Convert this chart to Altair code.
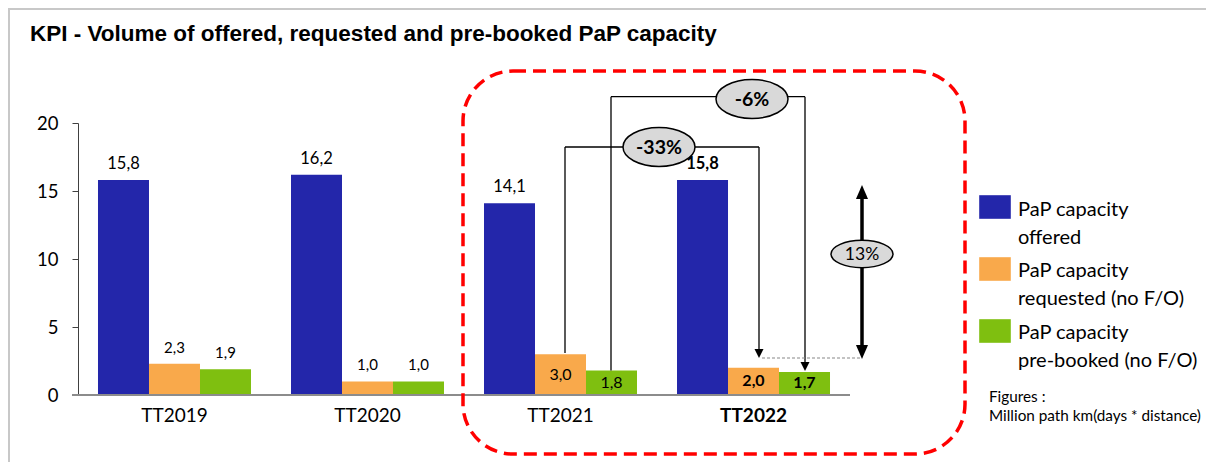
import altair as alt
import pandas as pd

# ---------------- data ----------------
title_text = "KPI - Volume of offered, requested and pre-booked PaP capacity"
groups = ["TT2019", "TT2020", "TT2021", "TT2022"]
series = ["PaP capacity offered", "PaP capacity requested (no F/O)", "PaP capacity pre-booked (no F/O)"]
legend_lines = ["PaP capacity\noffered", "PaP capacity\nrequested (no F/O)", "PaP capacity\npre-booked (no F/O)"]
offered = [15.8, 16.2, 14.1, 15.8]
requested = [2.3, 1.0, 3.0, 2.0]
prebooked = [1.9, 1.0, 1.8, 1.7]
colors = ["#2326AA", "#F9A94B", "#7FBF10"]
y_ticks = [0, 5, 10, 15, 20]
change_labels = ["-33%", "-6%", "13%"]
note_text = "Figures :\nMillion path km(days * distance)"

rows = []
for i, g in enumerate(groups):
    for s, vals in zip(series, [offered, requested, prebooked]):
        v = vals[i]
        rows.append({"group": g, "series": s, "value": v,
                     "label": f"{v:.1f}".replace(".", ",")})
df = pd.DataFrame(rows)
legend_df = pd.DataFrame({"series": series, "text": legend_lines})

# ---------------- geometry helpers ----------------
W, H = 772, 272
OX, OY = 78, 123          # absolute page position of plot origin


def px(a):
    return a - OX


def py(b):
    return b - OY


FONT = "Lato"

x_enc = alt.X("group:N", sort=groups,
              scale=alt.Scale(domain=groups, paddingInner=0.2073, paddingOuter=0.1036),
              axis=alt.Axis(title=None, labelFont=FONT, labelFontSize=19, labelColor="black",
                            labelPadding=11, ticks=False, domain=False, labelAngle=0,
                            labelFontWeight=alt.condition("datum.value === 'TT2022'",
                                                          alt.value("bold"), alt.value("normal"))))
xo_enc = alt.XOffset("series:N", sort=series, scale=alt.Scale(domain=series, paddingInner=0, paddingOuter=0))
y_scale = alt.Scale(domain=[0, 20], nice=False)
y_enc = alt.Y("value:Q", scale=y_scale,
              axis=alt.Axis(title=None, values=y_ticks, grid=False, labelFont=FONT, labelFontSize=18.5,
                            labelColor="black", labelPadding=14, tickSize=6, tickColor="#404040",
                            domainColor="#404040", tickWidth=1, domainWidth=1))
color_enc = alt.Color("series:N", scale=alt.Scale(domain=series, range=colors), legend=None)

base = alt.Chart(df)

bars = base.mark_bar().encode(x=x_enc, xOffset=xo_enc, y=y_enc, color=color_enc)

label_layers = []
for bold in (False, True):
    gfilter = "datum.group === 'TT2022'" if bold else "datum.group !== 'TT2022'"
    weight = "bold" if bold else "normal"
    label_layers.append(
        base.transform_filter(gfilter).transform_filter(
            f"datum.series === '{series[0]}' || datum.group === 'TT2019' || datum.group === 'TT2020'"
        ).mark_text(baseline="middle", dy=-16, font=FONT, color="black", fontWeight=weight).encode(
            x=x_enc, xOffset=xo_enc, y=alt.Y("value:Q", scale=y_scale), text="label:N",
            size=alt.condition(f"datum.series === '{series[0]}'", alt.value(16.5), alt.value(15)),
        ))
    label_layers.append(
        base.transform_filter(gfilter).transform_filter(
            f"datum.series !== '{series[0]}' && (datum.group === 'TT2021' || datum.group === 'TT2022')"
        ).transform_calculate(mid="datum.value / 2").mark_text(
            baseline="middle", font=FONT, color="black", fontSize=16, fontWeight=weight).encode(
            x=x_enc, xOffset=xo_enc, y=alt.Y("mid:Q", scale=y_scale), text="label:N",
        ))

one = alt.Chart(pd.DataFrame({"k": [0]}))


def hline(x1, x2, y, color="black", width=1.3, dash=None):
    kw = dict(color=color, strokeWidth=width)
    if dash:
        kw["strokeDash"] = dash
    return one.mark_rule(**kw).encode(x=alt.value(px(x1)), x2=alt.value(px(x2)), y=alt.value(py(y)))


def vline(x, y1, y2, color="black", width=1.3):
    return one.mark_rule(color=color, strokeWidth=width).encode(
        x=alt.value(px(x)), y=alt.value(py(y1)), y2=alt.value(py(y2)))


def symbol(path, x, y, size, fill="black", stroke=None, sw=1.5):
    kw = dict(shape=path, filled=True, fill=fill, opacity=1, fillOpacity=1, size=size)
    if stroke:
        kw.update(stroke=stroke, strokeWidth=sw, strokeOpacity=1)
    else:
        kw.update(strokeWidth=0)
    return one.mark_point(**kw).encode(x=alt.value(px(x)), y=alt.value(py(y)))


def label(txt, x, y, size, weight="bold"):
    return one.mark_text(text=txt, font=FONT, fontSize=size, fontWeight=weight, color="black",
                         align="center", baseline="middle").encode(x=alt.value(px(x)), y=alt.value(py(y)))


DOWN = "M0,0 L-1,-2 L1,-2 Z"
DOWN_T = "M0,0 L-0.86,-2 L0.86,-2 Z"
UP_T = "M0,0 L-0.86,2 L0.86,2 Z"
ELL = "M-1,0 A1,0.54 0 1,0 1,0 A1,0.54 0 1,0 -1,0 Z"
ELL2 = "M-1,0 A1,0.44 0 1,0 1,0 A1,0.44 0 1,0 -1,0 Z"

annots = [
    # -6% bracket (prebooked TT2021 -> TT2022)
    vline(611, 96.7, 370.5), hline(611, 805, 96.7), vline(805, 96.7, 363),
    symbol(DOWN, 805, 371, 81),
    # -33% bracket (requested TT2021 -> TT2022)
    vline(565, 147, 353), hline(565, 759, 147), vline(759, 147, 351),
    symbol(DOWN, 759, 358, 81),
    # dotted reference line
    hline(762, 862, 358, color="#888888", width=1.2, dash=[3, 2]),
    # thick double arrow
    vline(862, 196, 348, width=3.5),
    symbol(UP_T, 862, 185, 196), symbol(DOWN_T, 862, 359, 196),
    # ellipses with labels
    symbol(ELL, 752, 99, 72 * 72, fill="#D9D9D9", stroke="black"),
    label(change_labels[1], 752, 100, 19.5),
    symbol(ELL, 659, 147, 72 * 72, fill="#D9D9D9", stroke="black"),
    label(change_labels[0], 659, 148, 19.5),
    symbol(ELL2, 862, 254, 62 * 62, fill="#D9D9D9", stroke="black"),
    label(change_labels[2], 862, 255, 17.5, weight="normal"),
]

red_box = one.mark_rect(fill="white", fillOpacity=0, stroke="#FF0000", strokeWidth=3.5,
                        strokeDash=[13, 7], cornerRadius=50).encode(
    x=alt.value(px(463)), x2=alt.value(px(965)), y=alt.value(py(71)), y2=alt.value(py(454)))

x_line = one.mark_rule(color="#8C8C8C", strokeWidth=2).encode(
    x=alt.value(-6), x2=alt.value(W), y=alt.value(H))

frame_top = one.mark_rule(color="#C8C8C8", strokeWidth=2).encode(
    x=alt.value(-70), x2=alt.value(1198 - 70), y=alt.value(-114))
frame_left = one.mark_rule(color="#C8C8C8", strokeWidth=2).encode(
    x=alt.value(-69), y=alt.value(-115), y2=alt.value(454 - 115))

title = one.mark_text(text=title_text, font="Liberation Sans", fontSize=22.5, fontWeight="bold",
                      color="black", align="left", baseline="middle").encode(
    x=alt.value(px(30)), y=alt.value(py(34)))

# legend
legend_layers = []
sq_tops = [195, 257, 319]
txt_first = [210, 271, 333]
for i, s in enumerate(series):
    d = legend_df[legend_df.series == s]
    legend_layers.append(
        alt.Chart(d).mark_rect(stroke="white", strokeOpacity=0.4, strokeWidth=1).encode(
            x=alt.value(px(979)), x2=alt.value(px(1011)),
            y=alt.value(py(sq_tops[i])), y2=alt.value(py(sq_tops[i] + 24)),
            color=alt.Color("series:N", scale=alt.Scale(domain=series, range=colors), legend=None)))
    legend_layers.append(
        alt.Chart(d).mark_text(align="left", baseline="middle", font=FONT, fontSize=20,
                               lineBreak="\n", lineHeight=27.5, color="black").encode(
            x=alt.value(px(1018)), y=alt.value(py(txt_first[i])), text="text:N"))

note = one.mark_text(text=note_text, align="left", baseline="middle", font=FONT, fontSize=15.3,
                     lineBreak="\n", lineHeight=19, color="black").encode(
    x=alt.value(px(989)), y=alt.value(py(397)))

chart = alt.layer(
    frame_top, frame_left, title, bars, x_line, *label_layers,
    *annots, red_box, *legend_layers, note
).properties(
    width=W, height=H,
    autosize=alt.AutoSizeParams(type="none"),
    padding={"left": 70, "top": 115, "right": 356, "bottom": 67},
    background="white",
).configure_view(stroke=None)

chart.save("out.html", embed_options={"renderer": "svg", "actions": False})
